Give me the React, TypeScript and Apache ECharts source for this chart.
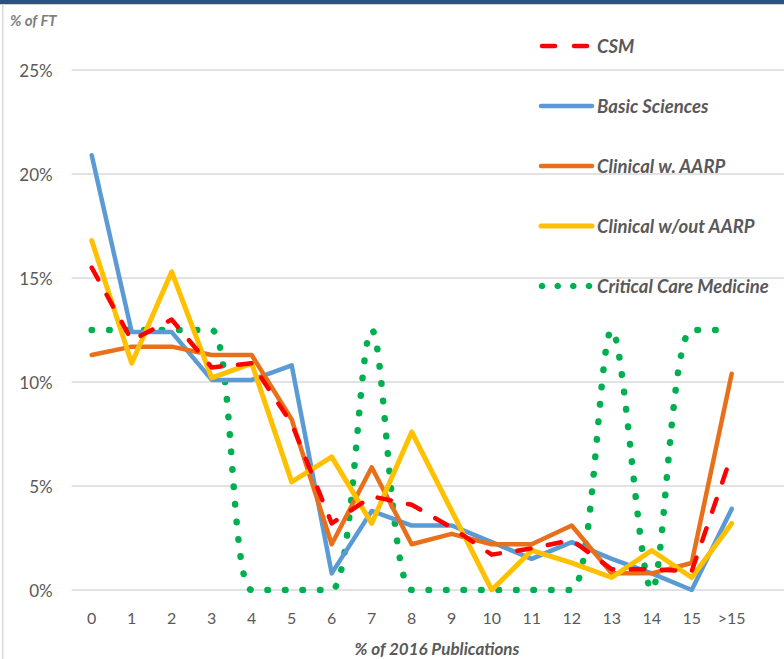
import React, { useEffect, useRef } from "react";
import * as echarts from "echarts";

// Share of full-time faculty by number of 2016 publications
const categories = ["0", "1", "2", "3", "4", "5", "6", "7", "8", "9", "10", "11", "12", "13", "14", "15", ">15"];
const csm = [15.5, 12.0, 13.0, 10.7, 10.9, 8.0, 3.2, 4.5, 4.1, 3.0, 1.7, 2.0, 2.4, 1.0, 1.0, 0.9, 6.5];
const basicSciences = [20.9, 12.4, 12.4, 10.1, 10.1, 10.8, 0.8, 3.8, 3.1, 3.1, 2.3, 1.5, 2.3, 1.5, 0.8, 0.0, 3.9];
const clinicalWithAarp = [11.3, 11.7, 11.7, 11.3, 11.3, 8.2, 2.2, 5.9, 2.2, 2.7, 2.2, 2.2, 3.1, 0.8, 0.8, 1.3, 10.4];
const clinicalWithoutAarp = [16.8, 10.9, 15.3, 10.2, 10.9, 5.2, 6.4, 3.2, 7.6, 3.8, 0.0, 1.9, 1.3, 0.6, 1.9, 0.6, 3.2];
const criticalCare = [12.5, 12.5, 12.5, 12.5, 0, 0, 0, 12.5, 0, 0, 0, 0, 0, 12.5, 0, 12.5, 12.5];
const yTicks = [0, 5, 10, 15, 20, 25];

const FONT = "Lato, 'Open Sans', sans-serif";
const TEXT = "#595959";
const GRID = "#D9D9D9";

const seriesNames = ["CSM", "Basic Sciences", "Clinical w. AARP", "Clinical w/out AARP", "Critical Care Medicine"];
const colors = ["#FF0000", "#5B9BD5", "#E8701A", "#FFC000", "#00B050"];

export default function App() {
  const ref = useRef<HTMLDivElement>(null);

  useEffect(() => {
    document.body.style.margin = "0";
    if (!ref.current) return;
    const chart = echarts.init(ref.current, undefined, { renderer: "svg" });

    const legendTop = 46;
    const legendGap = 60;
    const legendGraphics: any[] = [];
    seriesNames.forEach((name, i) => {
      const y = legendTop + i * legendGap;
      if (i === 0) {
        legendGraphics.push(
          { type: "line", shape: { x1: 542, y1: y, x2: 555, y2: y }, style: { stroke: colors[0], lineWidth: 4.5, lineCap: "round" } },
          { type: "line", shape: { x1: 574, y1: y, x2: 587, y2: y }, style: { stroke: colors[0], lineWidth: 4.5, lineCap: "round" } }
        );
      } else if (i === 4) {
        [542, 557.7, 573.3, 589].forEach((cx) =>
          legendGraphics.push({ type: "circle", shape: { cx, cy: y, r: 3.3 }, style: { fill: colors[4] } })
        );
      } else {
        legendGraphics.push({
          type: "line",
          shape: { x1: 541, y1: y, x2: 592, y2: y },
          style: { stroke: colors[i], lineWidth: i === 3 ? 5 : 4.5, lineCap: "round" },
        });
      }
      legendGraphics.push({
        type: "text",
        x: 597,
        y,
        style: {
          text: name,
          fill: TEXT,
          font: `italic bold 18.5px ${FONT}`,
          verticalAlign: "middle",
          align: "left",
        },
      });
    });

    const lineSeries = (name: string, data: number[], color: string, extra: any = {}) => ({
      name,
      type: "line",
      data,
      symbol: "none",
      lineStyle: { color, width: 4.5, join: "round", cap: "round", ...(extra.lineStyle || {}) },
      smooth: extra.smooth || false,
      z: extra.z || 2,
    });

    chart.setOption({
      animation: false,
      backgroundColor: "#FFFFFF",
      grid: { left: 71.7, top: 70, width: 720, bottom: 69 },
      xAxis: {
        type: "category",
        data: [...categories, ""],
        boundaryGap: true,
        axisLine: { show: false },
        axisTick: { show: false },
        axisLabel: { color: TEXT, fontFamily: FONT, fontSize: 16, margin: 19, interval: 0 },
      },
      yAxis: {
        type: "value",
        min: yTicks[0],
        max: yTicks[yTicks.length - 1],
        interval: 5,
        axisLine: { show: false },
        axisTick: { show: false },
        splitLine: { lineStyle: { color: GRID, width: 1.5 } },
        axisLabel: { color: TEXT, fontFamily: FONT, fontSize: 17, margin: 19, formatter: "{value}%" },
      },
      graphic: [
        { type: "rect", shape: { x: 0, y: 0, width: 800, height: 4 }, style: { fill: "#2B5089" } },
        { type: "rect", shape: { x: 0, y: 4, width: 800, height: 1 }, style: { fill: "#D0D0D0" } },
        { type: "rect", shape: { x: 2, y: 4, width: 1.5, height: 659 }, style: { fill: "#D9D9D9" } },
        {
          type: "text",
          x: 10,
          y: 20,
          style: { text: "% of FT", fill: "#7F7F7F", font: `italic bold 15px ${FONT}`, verticalAlign: "middle" },
        },
        {
          type: "text",
          x: 437,
          y: 648,
          style: { text: "% of 2016 Publications", fill: TEXT, font: `italic bold 17px ${FONT}`, align: "center", verticalAlign: "middle" },
        },
        ...legendGraphics,
      ],
      series: [
        lineSeries(seriesNames[4], criticalCare, colors[4], {
          smooth: 0.3,
          lineStyle: { width: 6.5, type: [0.5, 17], cap: "round" },
          z: 1,
        }),
        lineSeries(seriesNames[1], basicSciences, colors[1]),
        lineSeries(seriesNames[2], clinicalWithAarp, colors[2]),
        lineSeries(seriesNames[3], clinicalWithoutAarp, colors[3], { lineStyle: { width: 5 } }),
        lineSeries(seriesNames[0], csm, colors[0], { lineStyle: { type: [13.5, 17.5], cap: "round" }, z: 3 }),
      ],
    });

    return () => chart.dispose();
  }, []);

  return (
    <div style={{ width: 784, height: 659, overflow: "hidden", position: "relative" }}>
      <div ref={ref} style={{ width: 800, height: 659 }} />
    </div>
  );
}
